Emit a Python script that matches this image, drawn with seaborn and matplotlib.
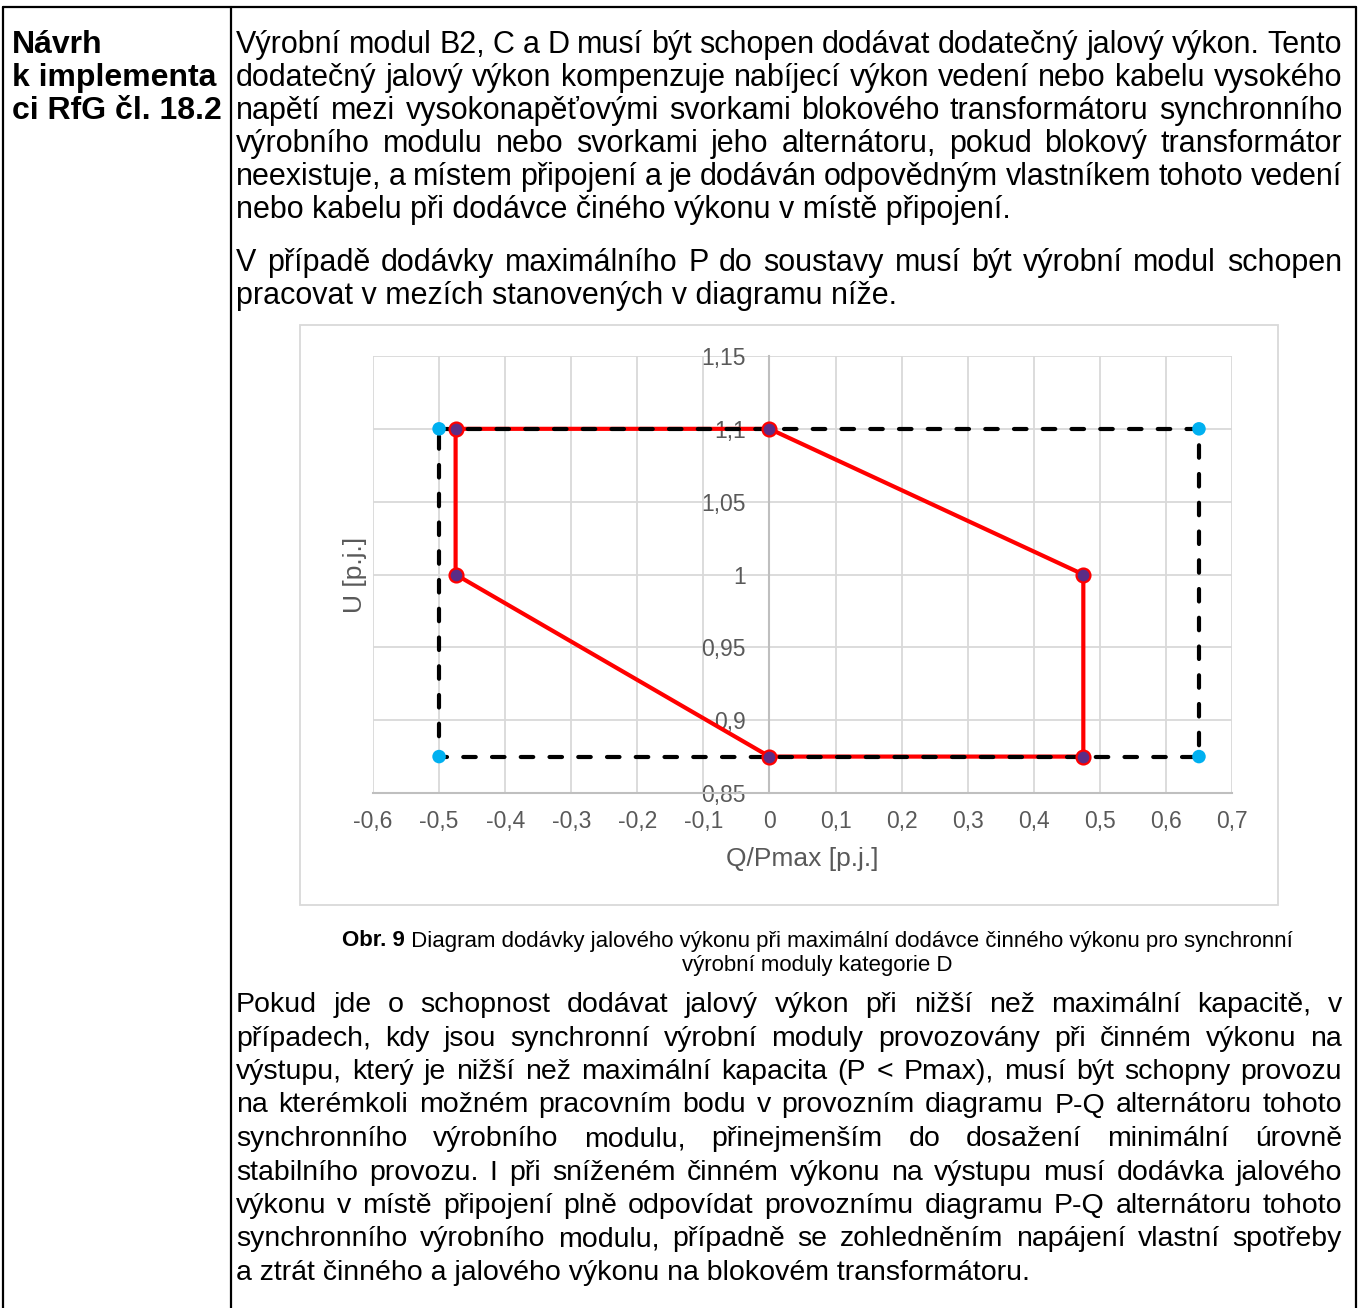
import numpy as np
import pandas as pd
import matplotlib
matplotlib.use('Agg')
import matplotlib.pyplot as plt
import seaborn as sns
from matplotlib.lines import Line2D
from matplotlib.patches import Rectangle
from matplotlib import font_manager

sns.set_theme(style='whitegrid')
plt.rcParams['font.family'] = ['Liberation Sans', 'DejaVu Sans']

# --- data -------------------------------------------------------------
red_q = [-0.475, 0, 0.475, 0.475, 0, -0.475, -0.475]
red_u = [1.1, 1.1, 1.0, 0.875, 0.875, 1.0, 1.1]
box_q = [-0.5, 0.65, 0.65, -0.5, -0.5]
box_u = [1.1, 1.1, 0.875, 0.875, 1.1]

x_ticks = [-0.6, -0.5, -0.4, -0.3, -0.2, -0.1, 0, 0.1, 0.2, 0.3, 0.4, 0.5, 0.6, 0.7]
x_labels = ['-0,6', '-0,5', '-0,4', '-0,3', '-0,2', '-0,1', '0',
            '0,1', '0,2', '0,3', '0,4', '0,5', '0,6', '0,7']
y_ticks = [0.85, 0.9, 0.95, 1.0, 1.05, 1.1, 1.15]
y_labels = ['0,85', '0,9', '0,95', '1', '1,05', '1,1', '1,15']

head_lines = ['Návrh', 'k implementa', 'ci RfG čl. 18.2']
para1 = ['Výrobní modul B2, C a D musí být schopen dodávat dodatečný jalový výkon. Tento',
         'dodatečný jalový výkon kompenzuje nabíjecí výkon vedení nebo kabelu vysokého',
         'napětí mezi vysokonapěťovými svorkami blokového transformátoru synchronního',
         'výrobního modulu nebo svorkami jeho alternátoru, pokud blokový transformátor',
         'neexistuje, a místem připojení a je dodáván odpovědným vlastníkem tohoto vedení',
         'nebo kabelu při dodávce činého výkonu v místě připojení.']
para2 = ['V případě dodávky maximálního P do soustavy musí být výrobní modul schopen',
         'pracovat v mezích stanovených v diagramu níže.']
caption_bold = 'Obr. 9'
caption1 = ' Diagram dodávky jalového výkonu při maximální dodávce činného výkonu pro synchronní'
caption2 = 'výrobní moduly kategorie D'
para3 = ['Pokud jde o schopnost dodávat jalový výkon při nižší než maximální kapacitě, v',
         'případech, kdy jsou synchronní výrobní moduly provozovány při činném výkonu na',
         'výstupu, který je nižší než maximální kapacita (P < Pmax), musí být schopny provozu',
         'na kterémkoli možném pracovním bodu v provozním diagramu P-Q alternátoru tohoto',
         'synchronního výrobního modulu, přinejmenším do dosažení minimální úrovně',
         'stabilního provozu. I při sníženém činném výkonu na výstupu musí dodávka jalového',
         'výkonu v místě připojení plně odpovídat provoznímu diagramu P-Q alternátoru tohoto',
         'synchronního výrobního modulu, případně se zohledněním napájení vlastní spotřeby',
         'a ztrát činného a jalového výkonu na blokovém transformátoru.']

W, H = 1362, 1308
fig = plt.figure(figsize=(W / 100, H / 100), dpi=100)
fig.patch.set_facecolor('white')
renderer = fig.canvas.get_renderer()


def fx(px):
    return px / W


def fy(py):
    return 1 - py / H


def text_width(t):
    return t.get_window_extent(renderer).width


# page frame
for xs, ys in [([3, 1356], [7, 7]), ([3, 3], [7, H]), ([231, 231], [7, H]), ([1356, 1356], [7, H])]:
    fig.add_artist(Line2D([fx(v) for v in xs], [fy(v) for v in ys],
                          transform=fig.transFigure, color='black', lw=1.6))


def write_lines(lines, y0, step, size, x0=236, x1=1342):
    for i, line in enumerate(lines):
        y = y0 + i * step
        if i == len(lines) - 1:
            fig.text(fx(x0), fy(y), line, fontsize=size, va='center', ha='left', color='black')
            continue
        texts = [fig.text(0, fy(y), w, fontsize=size, va='center', ha='left', color='black')
                 for w in line.split(' ')]
        widths = [text_width(t) for t in texts]
        gap = (x1 - x0 - sum(widths)) / (len(texts) - 1)
        x = x0
        for t, w in zip(texts, widths):
            t.set_x(fx(x))
            x += w + gap


for i, line in enumerate(head_lines):
    fig.text(fx(12), fy(45 + i * 33), line, fontsize=23, fontweight='bold',
             va='center', ha='left', color='black')

write_lines(para1, 45, 33, 22)
write_lines(para2, 263, 33, 22)
write_lines(para3, 1005, 33.5, 20.5)

# caption
names = {f.name for f in font_manager.fontManager.ttflist}
cap_family = ['Liberation Sans Narrow', 'Liberation Sans'] if 'Liberation Sans Narrow' in names \
    else ['Liberation Sans']
tb = fig.text(0, fy(941), caption_bold, fontsize=10, fontweight='bold', family=cap_family,
              va='center', ha='left', color='black')
tn = fig.text(0, fy(941), caption1, fontsize=10, family=cap_family, va='center', ha='left',
              color='black')
cap_size = 10 * 959 / (text_width(tb) + text_width(tn))
tb.set_fontsize(cap_size)
tn.set_fontsize(cap_size)
wb, wn = text_width(tb), text_width(tn)
cx = 817
tb.set_x(fx(cx - (wb + wn) / 2))
tn.set_x(fx(cx - (wb + wn) / 2 + wb))
fig.text(fx(cx), fy(966), caption2, fontsize=cap_size, family=cap_family,
         va='center', ha='center', color='black')

# chart frame
fig.add_artist(Rectangle((fx(300), fy(905)), fx(1278) - fx(300), fy(325) - fy(905),
                         transform=fig.transFigure, fill=False, edgecolor='#d9d9d9', lw=1.3))

# --- chart ------------------------------------------------------------
ax_l, ax_r, ax_t, ax_b = 373, 1232, 356, 793
ax = fig.add_axes([fx(ax_l), fy(ax_b), fx(ax_r) - fx(ax_l), fy(ax_t) - fy(ax_b)])
ax.set_facecolor('white')

red_df = pd.DataFrame({'q': red_q, 'u': red_u})
box_df = pd.DataFrame({'q': box_q, 'u': box_u})

sns.lineplot(data=red_df, x='q', y='u', sort=False, estimator=None, color='#ff0000',
             lw=3, ax=ax, zorder=3)
sns.lineplot(data=box_df, x='q', y='u', sort=False, estimator=None, color='black',
             lw=3, ax=ax, zorder=4)
dash = ax.lines[-1]
dash.set_dashes((3.0, 3.9))
dash.set_dash_capstyle('round')

sns.scatterplot(data=box_df.iloc[:-1], x='q', y='u', color='#00b0f0', s=95,
                edgecolor='none', ax=ax, zorder=5)
sns.scatterplot(data=red_df.iloc[:-1], x='q', y='u', color='#5b2d86', s=100,
                edgecolor='#ff0000', linewidth=1.6, ax=ax, zorder=6)

ax.set_xlim(-0.6, 0.7)
ax.set_ylim(0.85, 1.15)
ax.set_xticks(x_ticks)
ax.set_xticklabels(x_labels)
ax.set_yticks(y_ticks)
ax.set_yticklabels(y_labels)
ax.grid(True, color='#d9d9d9', lw=1.3)
for side in ['top', 'right']:
    ax.spines[side].set_visible(False)
ax.spines['left'].set_position(('data', 0))
ax.spines['left'].set_color('#bfbfbf')
ax.spines['left'].set_linewidth(1.5)
ax.spines['bottom'].set_color('#bfbfbf')
ax.spines['bottom'].set_linewidth(1.5)
ax.tick_params(axis='both', length=0, labelcolor='#595959', labelsize=16.5)
ax.tick_params(axis='x', pad=12)
ax.tick_params(axis='y', pad=17)

ax.set_xlabel('Q/Pmax [p.j.]', fontsize=19, color='#595959', labelpad=10)
ax.set_ylabel('U [p.j.]', fontsize=19, color='#595959')
ax.yaxis.label.set_va('center')
ax.yaxis.set_label_coords(-0.021, 0.5)

fig.savefig('out.png', dpi=100)
